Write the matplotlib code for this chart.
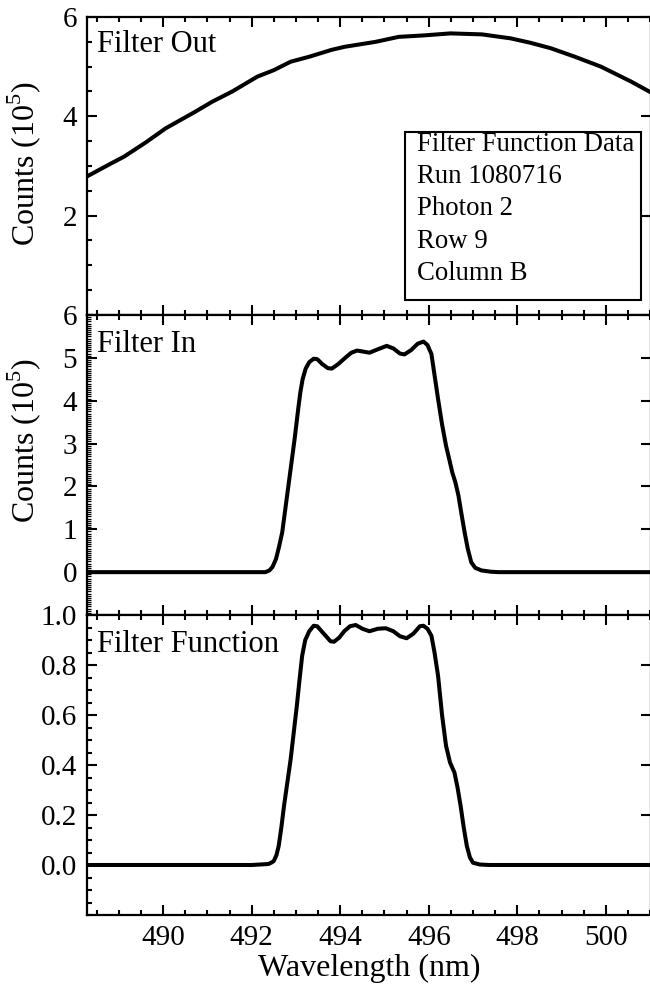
import matplotlib
matplotlib.use("Agg")
import matplotlib.pyplot as plt
from matplotlib.patches import Rectangle
from matplotlib.ticker import MultipleLocator

plt.rcParams['font.family'] = ['Liberation Serif', 'DejaVu Serif']
plt.rcParams['mathtext.fontset'] = 'custom'
plt.rcParams['mathtext.rm'] = 'Liberation Serif'

# --- datos ---
wl_out = [488.28, 488.8, 489.12, 489.6, 490.06, 490.4, 490.72, 491.1, 491.56, 492.13,
          492.5, 492.88, 493.3, 493.81, 494.1, 494.38, 494.8, 495.32, 495.9, 496.49,
          497.2, 497.85, 498.3, 498.76, 499.3, 499.89, 500.57, 501.02]
cnt_out = [2.79, 3.04, 3.19, 3.47, 3.76, 3.93, 4.09, 4.29, 4.50, 4.80,
           4.93, 5.10, 5.20, 5.34, 5.40, 5.44, 5.50, 5.60, 5.63, 5.67,
           5.65, 5.57, 5.48, 5.37, 5.20, 5.00, 4.70, 4.48]

wl_in = [488.28, 490.0, 492.0, 492.31, 492.40, 492.47, 492.55, 492.62, 492.69, 492.83,
         492.97, 493.05, 493.10, 493.15, 493.22, 493.30, 493.40, 493.48, 493.60, 493.72,
         493.81, 493.95, 494.09, 494.25, 494.38, 494.50, 494.66, 494.85, 495.05, 495.20,
         495.35, 495.45, 495.60, 495.75, 495.88, 495.97, 496.06, 496.13, 496.21, 496.30,
         496.39, 496.47, 496.53, 496.60, 496.67, 496.74, 496.81, 496.88, 496.96, 497.05,
         497.19, 497.40, 497.57, 499.0, 501.02]
cnt_in = [0.0, 0.0, 0.0, 0.0, 0.04, 0.12, 0.31, 0.60, 0.93, 2.02,
          3.11, 3.80, 4.20, 4.50, 4.75, 4.90, 4.98, 4.97, 4.85, 4.76,
          4.75, 4.85, 4.98, 5.12, 5.17, 5.15, 5.12, 5.20, 5.28, 5.22,
          5.10, 5.08, 5.18, 5.33, 5.38, 5.30, 5.09, 4.60, 4.04, 3.45,
          2.95, 2.60, 2.33, 2.10, 1.79, 1.35, 0.93, 0.55, 0.23, 0.10,
          0.04, 0.01, 0.0, 0.0, 0.0]

wl_fn = [488.28, 490.0, 492.0, 492.38, 492.45, 492.50, 492.56, 492.61, 492.67, 492.73,
         492.88, 493.02, 493.08, 493.14, 493.21, 493.30, 493.40, 493.48, 493.63, 493.78,
         493.86, 493.98, 494.09, 494.22, 494.35, 494.50, 494.66, 494.85, 495.03, 495.20,
         495.35, 495.50, 495.65, 495.80, 495.88, 495.97, 496.06, 496.13, 496.21, 496.30,
         496.39, 496.48, 496.58, 496.65, 496.72, 496.79, 496.86, 496.93, 497.00, 497.15,
         497.37, 499.0, 501.02]
val_fn = [0.0, 0.0, 0.0, 0.004, 0.010, 0.016, 0.040, 0.076, 0.150, 0.236,
          0.423, 0.637, 0.740, 0.837, 0.900, 0.935, 0.957, 0.955, 0.925, 0.895,
          0.893, 0.910, 0.935, 0.955, 0.960, 0.945, 0.935, 0.945, 0.947, 0.935,
          0.915, 0.907, 0.925, 0.955, 0.957, 0.945, 0.917, 0.850, 0.757, 0.600,
          0.477, 0.410, 0.370, 0.310, 0.236, 0.150, 0.076, 0.030, 0.009, 0.002,
          0.0, 0.0, 0.0]

info_lines = ["Filter Function Data", "Run 1080716", "Photon 2", "Row 9", "Column B"]

fig = plt.figure(figsize=(6.5, 9.89), dpi=100)
izq, der = 87 / 650, 651 / 650
ax1 = fig.add_axes([izq, 1 - 315 / 989, der - izq, 298 / 989])
ax2 = fig.add_axes([izq, 1 - 615 / 989, der - izq, 300 / 989])
ax3 = fig.add_axes([izq, 1 - 915 / 989, der - izq, 300 / 989])

fs_tick, fs_lbl, fs_panel, fs_info = 21, 23, 22, 19.3
for ax in (ax1, ax2, ax3):
    ax.set_xlim(488.28, 501.02)
    ax.xaxis.set_major_locator(MultipleLocator(2))
    ax.xaxis.set_minor_locator(MultipleLocator(0.5))
    ax.tick_params(which='both', direction='in', top=True, right=True, width=1.5,
                   labelsize=fs_tick)
    ax.tick_params(which='major', length=7, pad=7)
    ax.tick_params(which='minor', length=3.5)
    ax.tick_params(axis='y', which='minor', right=False)
    for s in ax.spines.values():
        s.set_linewidth(1.6)

ax1.plot(wl_out, cnt_out, color='black', lw=2.9)
ax1.set_ylim(0, 6)
ax1.set_yticks([2, 4, 6])
ax1.yaxis.set_minor_locator(MultipleLocator(0.5))
ax1.tick_params(labelbottom=False)
ax1.set_ylabel(r'Counts (10$^{5}$)', fontsize=fs_lbl)
ax1.yaxis.set_label_coords(-0.078, 0.507)
ax1.text(0.018, 0.883, "Filter Out", transform=ax1.transAxes, fontsize=fs_panel,
         va='baseline')
ax1.add_patch(Rectangle((0.564, 0.050), 0.418, 0.564, transform=ax1.transAxes,
                        fill=False, lw=1.5, color='black'))
for i, linea in enumerate(info_lines):
    ax1.text(0.585, 0.550 - i * 0.108, linea, transform=ax1.transAxes, fontsize=fs_info,
             va='baseline')

ax2.plot(wl_in, cnt_in, color='black', lw=2.9, solid_joinstyle='round')
ax2.set_ylim(-1, 6)
ax2.set_yticks(range(0, 7))
ax2.yaxis.set_minor_locator(MultipleLocator(0.05))
ax2.tick_params(axis='y', which='minor', width=0.9, length=3)
ax2.tick_params(labelbottom=False)
ax2.set_ylabel(r'Counts (10$^{5}$)', fontsize=fs_lbl)
ax2.yaxis.set_label_coords(-0.078, 0.583)
ax2.text(0.018, 0.877, "Filter In", transform=ax2.transAxes, fontsize=fs_panel,
         va='baseline')

ax3.plot(wl_fn, val_fn, color='black', lw=2.9, solid_joinstyle='round')
ax3.set_ylim(-0.2, 1.0)
ax3.set_yticks([0.0, 0.2, 0.4, 0.6, 0.8, 1.0])
ax3.yaxis.set_major_formatter(plt.FormatStrFormatter('%.1f'))
ax3.yaxis.set_minor_locator(MultipleLocator(0.05))
ax3.set_xlabel("Wavelength (nm)", fontsize=fs_lbl, labelpad=2)
ax3.text(0.018, 0.877, "Filter Function", transform=ax3.transAxes, fontsize=fs_panel,
         va='baseline')

fig.savefig("out.png", dpi=100)
